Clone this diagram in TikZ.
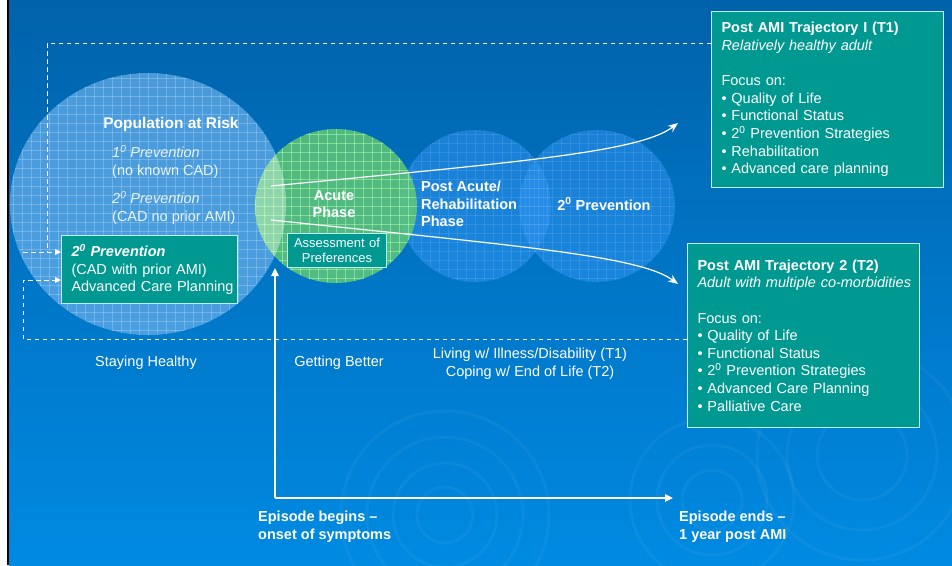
\documentclass[tikz,border=0pt]{standalone}
\usepackage{fontspec}
\setmainfont{Liberation Sans}
\usetikzlibrary{arrows.meta}

\definecolor{bgtop}{RGB}{0,98,170}
\definecolor{bgmid}{RGB}{0,106,183}
\definecolor{bgbot}{RGB}{0,138,226}
\definecolor{popblue}{RGB}{100,172,232}
\definecolor{phaseblue}{RGB}{50,150,245}
\definecolor{acutegreen}{RGB}{100,205,115}
\definecolor{gridgreen}{RGB}{185,255,170}
\definecolor{tealfill}{RGB}{0,153,145}
\definecolor{boxline}{RGB}{190,240,235}

\begin{document}
\begin{tikzpicture}[x=1pt, y=-1pt,
    lbl/.style={text=white, inner sep=0pt, font=\fontsize{14.5}{17.6}\selectfont},
    boldlbl/.style={lbl, font=\fontsize{14.5}{17.6}\selectfont\bfseries},
    tbox/.style={draw=boxline, line width=1pt, fill=tealfill, text=white, align=left,
      anchor=north west, inner xsep=10pt, inner ysep=0pt, font=\fontsize{14.5}{17.6}\selectfont},
    dashline/.style={white, line width=0.9pt, dash pattern=on 4.5pt off 3.5pt},
    dasharrow/.style={dashline, -{Triangle[length=6pt,width=6pt]}},
    axisarrow/.style={white, line width=1.2pt, -{Triangle[length=8pt,width=7.5pt]}},
    trajarrow/.style={white, line width=1.2pt, -{Stealth[length=10pt,width=8pt]}}]
    \useasboundingbox (0,0) rectangle (952,565);
    % background
    \fill[white] (0,0) rectangle (952,565);
    \shade[top color=bgtop, middle color=bgmid, bottom color=bgbot] (9,0) rectangle (952,565);
    \fill[black] (6.5,0) rectangle (9.3,565);
    % faint ripples
    \begin{scope}
      \clip (9.3,0) rectangle (952,565);
      \foreach \rx/\ry/\rr in {445/515/28, 445/515/52, 445/515/78, 445/515/104,
          712/500/30, 712/500/55, 712/500/82, 862/455/45, 862/455/75, 862/455/105} {
        \draw[white, opacity=0.045, line width=3pt] (\rx,\ry) circle [radius=\rr pt];
      }
    \end{scope}
    % phase circles with their grid
    \foreach \cx/\cy/\rx/\ry/\fc/\fo/\gc/\go in {
        148/204/138/131/popblue/0.75/white/0.22,
        597/206/78/76/phaseblue/0.5/white/0.1,
        475/206/76/76/phaseblue/0.5/white/0.1,
        336/206/81/77/acutegreen/0.8/gridgreen/0.5} {
      \fill[\fc, fill opacity=\fo] (\cx,\cy) ellipse [x radius=\rx pt, y radius=\ry pt];
      \begin{scope}
        \clip (\cx,\cy) ellipse [x radius=\rx pt, y radius=\ry pt];
        \foreach \g in {-144,-135,...,144} {
          \draw[\gc, opacity=\go, line width=0.4pt] (\cx+\g,\cy-\ry) -- ++(0,2*\ry);
          \draw[\gc, opacity=\go, line width=0.4pt] (\cx-\rx,\cy+\g) -- ++(2*\rx,0);
        }
      \end{scope}
    }
    % lighter lens where risk and acute overlap
    \begin{scope}
      \clip (148,204) ellipse [x radius=138pt, y radius=131pt];
      \fill[white, fill opacity=0.3] (336,206) ellipse [x radius=81pt, y radius=77pt];
    \end{scope}
    % circle texts
    \node[boldlbl, font=\fontsize{15.5}{18}\selectfont\bfseries] (poptitle) at (171,124) {Population at Risk};
    \node[lbl, text opacity=0.88, anchor=west, align=left] (primprev) at (112,162)
      {\textit{1\textsuperscript{0} Prevention}\\(no known CAD)};
    \node[lbl, text opacity=0.88, anchor=west, align=left] (cadprev) at (112,208)
      {\textit{2\textsuperscript{0} Prevention}\\(CAD no prior AMI)};
    \node[boldlbl, align=center] (acute) at (334,204) {Acute\\Phase};
    \node[boldlbl, align=left, anchor=west] (postacute) at (421,204) {Post Acute/\\Rehabilitation\\Phase};
    \node[boldlbl] (secprev) at (604,204) {2\textsuperscript{0} Prevention};
    % boxes
    \node[tbox, text width=156pt, minimum height=68pt] (amibox) at (61,235)
      {\textbf{\textit{2\textsuperscript{0} Prevention}}\\(CAD with prior AMI)\\\mbox{Advanced Care Planning}};
    \node[tbox, align=center, inner xsep=4pt, text width=91pt, minimum height=34pt,
      font=\fontsize{13}{15.5}\selectfont] (assess) at (287,233) {\mbox{Assessment of}\\Preferences};
    \node[tbox, text width=212pt, minimum height=176pt] (traj1) at (711,11)
      {\textbf{Post AMI Trajectory I (T1)}\\
       \textit{Relatively healthy adult}\\[17.6pt]
       Focus on:\\
       \textbullet\ Quality of Life\\
       \textbullet\ Functional Status\\
       \textbullet\ 2\textsuperscript{0} Prevention Strategies\\
       \textbullet\ Rehabilitation\\
       \textbullet\ Advanced care planning};
    \node[tbox, text width=212pt, minimum height=184pt] (traj2) at (687,243)
      {\textbf{Post AMI Trajectory 2 (T2)}\\
       \mbox{\textit{Adult with multiple co-morbidities}}\\[17.6pt]
       Focus on:\\
       \textbullet\ Quality of Life\\
       \textbullet\ Functional Status\\
       \textbullet\ 2\textsuperscript{0} Prevention Strategies\\
       \textbullet\ Advanced Care Planning\\
       \textbullet\ Palliative Care};
    % stage labels
    \node[lbl] (healthy) at (146,363) {Staying Healthy};
    \node[lbl] (better) at (339,363) {Getting Better};
    \node[lbl, align=center] (living) at (530,364) {Living w/ Illness/Disability (T1)\\Coping w/ End of Life (T2)};
    \node[boldlbl, align=left, anchor=west] (epbegin) at (258,527) {Episode begins –\\onset of symptoms};
    \node[boldlbl, align=left, anchor=west] (epend) at (679,527) {Episode ends –\\1 year post AMI};
    % trajectories
    \coordinate (t1start) at (271,186);
    \coordinate (t1tip) at (678,123);
    \coordinate (t2start) at (271,220);
    \coordinate (t2tip) at (678,284);
    \draw[trajarrow] (t1start) .. controls (520,162) and (640,152) .. (t1tip);
    \draw[trajarrow] (t2start) .. controls (520,246) and (640,256) .. (t2tip);
    % episode axis
    \coordinate (origin) at (275,498);
    \coordinate (onset) at (275,268);
    \coordinate (yearend) at (673,498);
    \draw[axisarrow] (origin) -- (onset);
    \draw[axisarrow] (origin) -- (yearend);
    % feedback loops
    \coordinate (topturn) at (47,43);
    \coordinate (lowturn) at (23,339);
    \coordinate (feedA) at (23,252);
    \coordinate (feedB) at (23,280);
    \draw[dashline] (topturn -| traj1.west) -- (topturn) -- (topturn |- feedA);
    \draw[dasharrow] (feedA) -- (feedA -| amibox.west);
    \draw[dasharrow] (lowturn -| traj2.west) -- (lowturn) -- (feedB) -- (feedB -| amibox.west);
\end{tikzpicture}
\end{document}
